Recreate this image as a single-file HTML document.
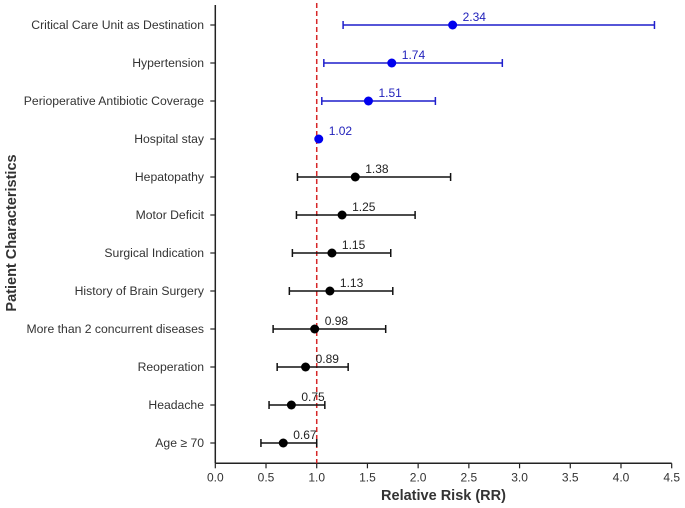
<!DOCTYPE html>
<html><head><meta charset="utf-8"><style>
body{margin:0;background:#fff}
svg{display:block;font-family:"Liberation Sans",Arial,sans-serif}
</style></head><body>
<svg id="chart" width="685" height="508" viewBox="0 0 685 508"></svg>
<script>
const categories=["Critical Care Unit as Destination","Hypertension","Perioperative Antibiotic Coverage","Hospital stay","Hepatopathy","Motor Deficit","Surgical Indication","History of Brain Surgery","More than 2 concurrent diseases","Reoperation","Headache","Age \u2265 70"];
const rr=[2.34,1.74,1.51,1.02,1.38,1.25,1.15,1.13,0.98,0.89,0.75,0.67];
const ciLow=[1.26,1.07,1.05,1.02,0.81,0.80,0.76,0.73,0.57,0.61,0.53,0.45];
const ciHigh=[4.33,2.83,2.17,1.02,2.32,1.97,1.73,1.75,1.68,1.31,1.08,1.00];
const significant=[true,true,true,true,false,false,false,false,false,false,false,false];
const xTicks=[0,0.5,1,1.5,2,2.5,3,3.5,4,4.5];
const refValue=1.0;

const NS="http://www.w3.org/2000/svg";
const svg=document.getElementById('chart');
const x0=215.3,x1=671.7,xmax=4.5;
const X=v=>x0+(v/xmax)*(x1-x0);
const Y=i=>25+i*38;
const axisY=463.3;
function mk(tag,attrs,parent){const e=document.createElementNS(NS,tag);for(const k in attrs)e.setAttribute(k,attrs[k]);(parent||svg).appendChild(e);return e;}

let a=mk('line',{x1:x0,y1:5,x2:x0,y2:axisY,stroke:'#222','stroke-width':1.5});


a=mk('line',{x1:x0,y1:axisY,x2:x1,y2:axisY,stroke:'#222','stroke-width':1.5});



xTicks.forEach(t=>{
  const tk=mk('line',{x1:X(t),y1:axisY,x2:X(t),y2:axisY+5,stroke:'#222','stroke-width':1.2});
  
  
  const tl=mk('text',{x:X(t),y:axisY+18,'text-anchor':'middle','font-size':12,fill:'#333'});
  tl.textContent=t.toFixed(1);
  
  
});

let t=mk('text',{x:(x0+x1)/2,y:500,'text-anchor':'middle','font-size':14.5,'font-weight':'bold',fill:'#333'});
t.textContent='Relative Risk (RR)';


t=mk('text',{x:0,y:0,'text-anchor':'middle','font-size':14.5,'font-weight':'bold',fill:'#333',transform:'translate(16,233) rotate(-90)'});
t.textContent='Patient Characteristics';



const rl=mk('line',{x1:X(refValue),y1:3,x2:X(refValue),y2:axisY,stroke:'#d62728','stroke-width':1.5,'stroke-dasharray':'5,3'});



categories.forEach((c,i)=>{
  const y=Y(i),col=significant[i]?'#1f1fcc':'#111',dot=significant[i]?'#0000ee':'#000';
  const tk=mk('line',{x1:x0-5,y1:y,x2:x0,y2:y,stroke:'#222','stroke-width':1.2});
  
  
  const lb=mk('text',{x:204,y:y+4,'text-anchor':'end','font-size':12.2,fill:'#333'});
  lb.textContent=c;
  
  
  const g=mk('g',{});
  
  
  if(ciHigh[i]>ciLow[i]){
    mk('line',{x1:X(ciLow[i]),y1:y,x2:X(ciHigh[i]),y2:y,stroke:col,'stroke-width':1.5},g);
    mk('line',{x1:X(ciLow[i]),y1:y-4,x2:X(ciLow[i]),y2:y+4,stroke:col,'stroke-width':1.5},g);
    mk('line',{x1:X(ciHigh[i]),y1:y-4,x2:X(ciHigh[i]),y2:y+4,stroke:col,'stroke-width':1.5},g);
  }
  const p=mk('circle',{cx:X(rr[i]),cy:y,r:4.5,fill:dot});
  
  
  const v=mk('text',{x:X(rr[i])+10,y:y-4,'font-size':12,fill:significant[i]?'#2222bb':'#222'});
  v.textContent=rr[i].toFixed(2);
  
  
});
</script>
</body></html>
